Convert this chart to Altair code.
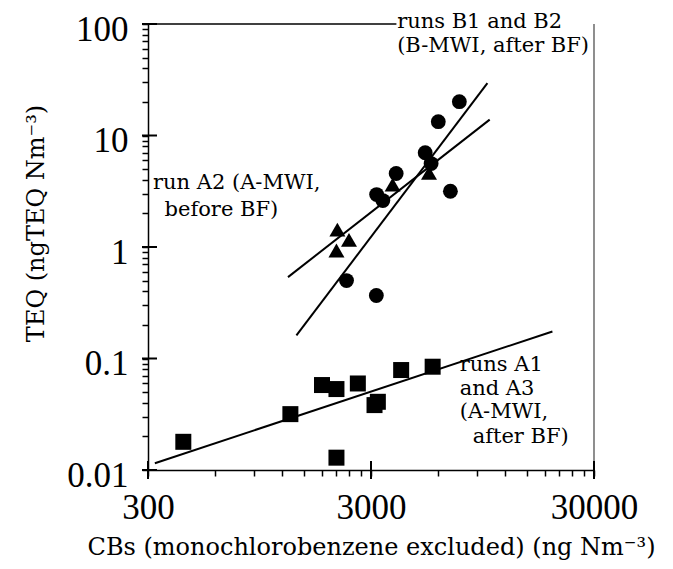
import altair as alt
import pandas as pd

# ---- data ----
circle_x = [7470, 6010, 5250, 5580, 3890, 6810, 3180, 3390, 2330, 3170]
circle_y = [20.1, 13.3, 7.0, 5.6, 4.56, 3.16, 2.95, 2.61, 0.50, 0.367]
tri_x = [2120, 2390, 2100, 3750, 5460]
tri_y = [1.43, 1.16, 0.93, 3.63, 4.62]
sq_x = [432, 1305, 1809, 2100, 2619, 3111, 3220, 4096, 5670, 2100]
sq_y = [0.0179, 0.0317, 0.0578, 0.0532, 0.0597, 0.0382, 0.0409, 0.0788, 0.0844, 0.0129]

# regression line end points (x1, y1, x2, y2)
fit_names = ["B1/B2", "A2", "A1/A3"]
fit_x1 = [1389, 1273, 322]
fit_y1 = [0.161, 0.537, 0.0115]
fit_x2 = [9980, 10220, 19530]
fit_y2 = [29.55, 13.87, 0.1748]

x_major = [300, 3000, 30000]
x_minor = [600, 900, 1200, 1500, 1800, 2100, 2400, 2700,
           6000, 9000, 12000, 15000, 18000, 21000, 24000, 27000]
y_major = [0.01, 0.1, 1, 10, 100]
y_minor = [0.02, 0.03, 0.04, 0.05, 0.06, 0.07, 0.08, 0.09,
           0.2, 0.3, 0.4, 0.5, 0.6, 0.7, 0.8, 0.9,
           2, 3, 4, 5, 6, 7, 8, 9,
           20, 30, 40, 50, 60, 70, 80, 90]

ann_text = ["runs B1 and B2", "(B-MWI, after BF)", "run A2 (A-MWI,", "before BF)",
            "runs A1", "and A3", "(A-MWI,", "after BF)"]
ann_x = [3930, 3930, 316, 356, 7497, 7497, 7497, 8575]
ann_y = [92.4, 55.7, 3.29, 1.88, 0.0765, 0.0473, 0.0293, 0.01747]

frame_top_x = [300, 3900]
frame_right_x = 30000

W, H = 446, 446
SERIF = "DejaVu Serif"
NUM = "Liberation Serif"

xs = alt.Scale(type="log", domain=[300, 30000], nice=False)
ys = alt.Scale(type="log", domain=[0.01, 100], nice=False)

x_is_major = "indexof([300,3000,30000], datum.value) >= 0"
y_is_major = "indexof([0.01,0.1,1,10,100], datum.value) >= 0"

x_axis = alt.Axis(
    orient="bottom", values=x_major + x_minor, grid=False, ticks=True,
    labelExpr=f"{x_is_major} ? format(datum.value, 'd') : ''",
    tickSize=6, tickWidth=1.5, tickColor="black",
    labelFont=NUM, labelFontSize=35, labelColor="black",
    labelBaseline="alphabetic", labelPadding=42, labelFlush=False, labelOverlap=False,
    domainColor="black", domainWidth=1.5,
    title="CBs (monochlorobenzene excluded) (ng Nm\u207b\u00b3)",
    titleFont=SERIF, titleFontSize=24, titleFontWeight="normal", titleColor="black",
    titleBaseline="alphabetic", titleY=84, titleX=W / 2,
)
y_axis = alt.Axis(
    orient="left", values=y_major + y_minor, grid=False, ticks=True,
    labelExpr=f"{y_is_major} ? format(datum.value, '~g') : ''",
    tickSize=6, tickWidth=1.5, tickColor="black",
    labelFont=NUM, labelFontSize=35, labelColor="black",
    labelBaseline="alphabetic", labelOffset=16, labelPadding=14, labelFlush=False, labelOverlap=False,
    domainColor="black", domainWidth=1.5,
    title="TEQ (ngTEQ Nm\u207b\u00b3)",
    titleFont=SERIF, titleFontSize=24, titleFontWeight="normal", titleColor="black",
    titleAngle=270, titleBaseline="alphabetic", titleAlign="center",
    titleX=-105, titleY=199,
)

circles = alt.Chart(pd.DataFrame({"cb": circle_x, "teq": circle_y})).mark_point(
    filled=True, color="black", opacity=1, shape="circle", size=220).encode(
    x=alt.X("cb:Q", scale=xs, axis=x_axis),
    y=alt.Y("teq:Q", scale=ys, axis=y_axis),
)
triangles = alt.Chart(pd.DataFrame({"cb": tri_x, "teq": tri_y})).mark_point(
    filled=True, color="black", opacity=1, shape="triangle-up", size=256).encode(
    x=alt.X("cb:Q", scale=xs), y=alt.Y("teq:Q", scale=ys),
)
squares = alt.Chart(pd.DataFrame({"cb": sq_x, "teq": sq_y})).mark_point(
    filled=True, color="black", opacity=1, shape="square", size=256).encode(
    x=alt.X("cb:Q", scale=xs), y=alt.Y("teq:Q", scale=ys),
)

fits = pd.DataFrame({"name": fit_names, "x1": fit_x1, "y1": fit_y1, "x2": fit_x2, "y2": fit_y2})
lines = alt.Chart(fits).mark_rule(color="black", strokeWidth=2).encode(
    x=alt.X("x1:Q", scale=xs), y=alt.Y("y1:Q", scale=ys), x2="x2:Q", y2="y2:Q"
)

top_df = pd.DataFrame({"x1": [frame_top_x[0]], "x2": [frame_top_x[1]], "y": [100]})
top_rule = alt.Chart(top_df).mark_rule(color="black", strokeWidth=1.5).encode(
    x=alt.X("x1:Q", scale=xs), x2="x2:Q", y=alt.Y("y:Q", scale=ys)
)
right_df = pd.DataFrame({"x": [frame_right_x], "y1": [0.01], "y2": [100]})
right_rule = alt.Chart(right_df).mark_rule(color="#444444", strokeWidth=1.2).encode(
    x=alt.X("x:Q", scale=xs), y=alt.Y("y1:Q", scale=ys), y2="y2:Q"
)

ann = pd.DataFrame({"t": ann_text, "x": ann_x, "y": ann_y})
texts = alt.Chart(ann).mark_text(align="left", baseline="alphabetic", font=SERIF,
                                 fontSize=21, color="black").encode(
    x=alt.X("x:Q", scale=xs), y=alt.Y("y:Q", scale=ys), text="t:N"
)

# longer major ticks that cross the axis lines
xt_major = alt.Chart(pd.DataFrame({"xv": x_major})).mark_rule(color="#000000", strokeWidth=2).encode(
    x=alt.X("xv:Q", scale=xs), y=alt.value(H - 9), y2=alt.value(H + 9))
yt_major = alt.Chart(pd.DataFrame({"yv": y_major})).mark_rule(color="#000000", strokeWidth=2).encode(
    y=alt.Y("yv:Q", scale=ys), x=alt.value(-6), x2=alt.value(9))

chart = alt.layer(circles, triangles, squares, lines, top_rule, right_rule, texts,
                  xt_major, yt_major).properties(
    width=W, height=H,
    padding={"left": 16, "top": 2, "right": 5, "bottom": 5},
).configure_view(strokeWidth=0)

chart.save("out.html", embed_options={"renderer": "svg", "actions": False})
